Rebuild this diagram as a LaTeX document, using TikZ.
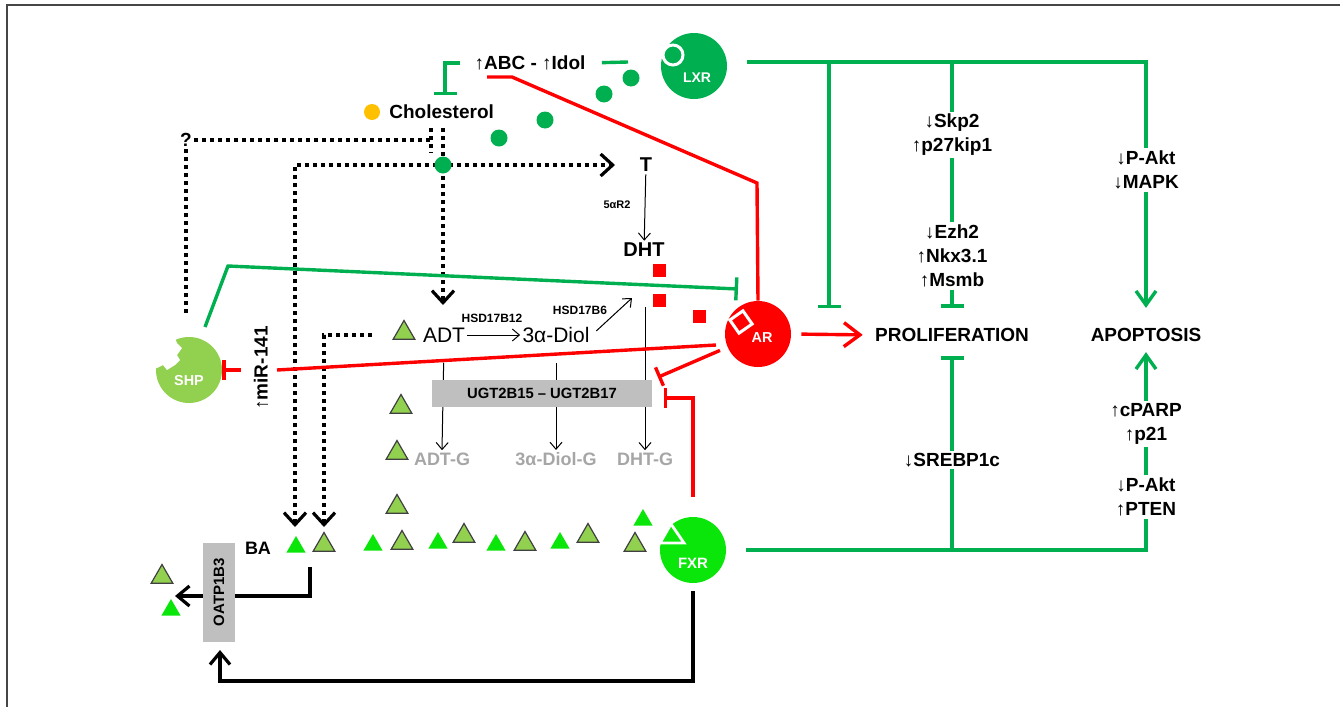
\documentclass[tikz,border=0pt]{standalone}
\usepackage{fontspec}
\setmainfont{Liberation Sans}
\usetikzlibrary{arrows.meta,shapes.geometric}
\definecolor{NRlxr}{RGB}{0,176,80}
\definecolor{NRfxr}{RGB}{10,230,10}
\definecolor{NRshp}{RGB}{146,208,80}
\definecolor{NRred}{RGB}{255,0,0}
\definecolor{NRorange}{RGB}{255,192,0}
\definecolor{NRbox}{RGB}{191,191,191}
\definecolor{NRtext}{RGB}{166,166,166}
\definecolor{NRedge}{RGB}{64,64,64}
\definecolor{NRframe}{RGB}{70,70,70}
\tikzset{
  receptor/.style={circle,minimum size=33pt,inner sep=0pt},
  rtext/.style={text=white,inner sep=0pt,font=\fontsize{7.2}{8}\selectfont\bfseries},
  lbl/.style={font=\fontsize{9.5}{12}\selectfont\bfseries,align=center,inner sep=1pt},
  enz/.style={font=\fontsize{6}{7}\selectfont\bfseries,inner sep=1pt},
  met/.style={font=\fontsize{10.5}{12}\selectfont,inner sep=1pt},
  glu/.style={font=\fontsize{9}{10}\selectfont\bfseries,text=NRtext,inner sep=1pt},
  tribas/.style={regular polygon,regular polygon sides=3,inner sep=0pt,minimum size=12.5pt,
                 fill=NRshp,draw=NRedge,line width=0.6pt},
  tribile/.style={regular polygon,regular polygon sides=3,inner sep=0pt,minimum size=11pt,fill=NRfxr},
  ligand/.style={circle,fill=NRlxr,minimum size=8.5pt,inner sep=0pt},
  andro/.style={rectangle,fill=NRred,minimum size=6.5pt,inner sep=0pt},
  gl/.style={draw=NRlxr,line width=1.7pt},
  ginh/.style={gl,-{Bar[width=11.5pt,line width=1.7pt]}},
  gact/.style={gl,-{Straight Barb[length=7pt,width=10pt,line width=1.7pt]}},
  rl/.style={draw=NRred,line width=1.7pt},
  rinh/.style={rl,-{Bar[width=10pt,line width=1.7pt]}},
  ract/.style={rl,-{Straight Barb[length=8pt,width=12pt,line width=1.7pt]}},
  dl/.style={draw=black,line width=2pt,dash pattern=on 2pt off 2pt},
  dact/.style={dl,-{Straight Barb[length=6pt,width=11pt,line width=1.6pt]}},
  bl/.style={draw=black,line width=1.8pt,-{Straight Barb[length=6pt,width=10pt,line width=1.6pt]}},
  tl/.style={draw=black,line width=0.5pt,-{Straight Barb[length=3.5pt,width=6pt,line width=0.5pt]}}
}
\begin{document}
\begin{tikzpicture}[x=0.5pt,y=-0.5pt]
  \useasboundingbox (0,0) rectangle (1340,707);
  \draw[NRframe,line width=1pt] (7,707) -- (7,5) -- (1340,5);

  \coordinate (lxrout) at (747,62);
  \coordinate (lxrb1) at (829,62);
  \coordinate (lxrb2) at (952,62);
  \coordinate (pinh) at (829,308);
  \coordinate (fxrout) at (746,550);
  \coordinate (shpout) at (205,327);
  \coordinate (shpbend) at (228,266);
  \coordinate (argreen) at (738,289);
  \coordinate (arbend) at (757,183);
  \coordinate (abcbar) at (512,77);
  \coordinate (abcbarl) at (487,77);
  \coordinate (armir) at (716,345);
  \coordinate (mirr) at (277,370);
  \coordinate (mirl) at (241,370);
  \coordinate (ugtbar) at (664,398);
  \coordinate (cholbar) at (445,95);
  \coordinate (abcright) at (628,62);
  \coordinate (qend) at (431,140);
  \coordinate (qv1) at (431,128);
  \coordinate (qv2) at (431,153);
  \coordinate (qdown) at (186,317);
  \coordinate (cholv) at (443,128);
  \coordinate (adtin) at (443,305);
  \coordinate (ttip) at (615,165);
  \coordinate (batip1) at (295,527);
  \coordinate (adtdot) at (372,335);
  \coordinate (batip2) at (324,527);
  \coordinate (dhtin) at (632,298);
  \coordinate (dhtline) at (645,307);
  \coordinate (baout) at (310,567);
  \coordinate (oatpout) at (175,596);
  \coordinate (loopl) at (220,681);
  \coordinate (oatpin) at (220,650);

  \node[lbl] (abc) at (530,63) {↑ABC - ↑Idol};
  \node[circle,fill=NRorange,minimum size=8pt,inner sep=0pt] (choldot) at (372,112) {};
  \node[lbl,anchor=west] (chol) at (387,112) {Cholesterol};
  \node[lbl] (q) at (186,140) {?};
  \node[lbl,font=\fontsize{10}{12}\selectfont\bfseries] (t) at (646,165) {T};
  \node[lbl,font=\fontsize{10}{12}\selectfont\bfseries] (dht) at (644,250) {DHT};
  \node[enz,font=\fontsize{5.5}{6}\selectfont\bfseries] (red5) at (617,205) {5αR2};
  \node[met] (adt) at (444,335) {ADT};
  \node[met] (diol) at (556,335) {3α-Diol};
  \node[enz] (hsd12) at (492,318) {HSD17B12};
  \node[enz] (hsd6) at (580,310) {HSD17B6};
  \node[glu] (adtg) at (442,459) {ADT-G};
  \node[glu] (diolg) at (556,459) {3α-Diol-G};
  \node[glu] (dhtg) at (645,459) {DHT-G};
  \node[lbl,rotate=90] (mir) at (261,368) {↑miR-141};
  \node[lbl,font=\fontsize{9}{10}\selectfont\bfseries] (ba) at (258,548) {BA};

  \node[lbl] (prolif) at (952,335) {PROLIFERATION};
  \node[lbl] (apop) at (1146,335) {APOPTOSIS};
  \node[lbl] (skp) at (952,135) {↓Skp2\\↑p27kip1};
  \node[lbl] (ezh) at (952,256) {↓Ezh2\\↑Nkx3.1\\↑Msmb};
  \node[lbl] (pakt) at (1146,170) {↓P-Akt\\↓MAPK};
  \node[lbl] (srebp) at (952,460) {↓SREBP1c};
  \node[lbl] (cparp) at (1146,424) {↑cPARP\\↑p21};
  \node[lbl] (paktb) at (1146,497) {↓P-Akt\\↑PTEN};

  \node[receptor,fill=NRlxr] (lxr) at (694,66) {};
  \draw[white,line width=1.5pt,fill=NRlxr] (673,55) circle (10);
  \node[rtext,font=\fontsize{7}{8}\selectfont\bfseries] (lxrt) at (697,78) {LXR};
  \node[receptor,fill=NRred] (ar) at (758,334) {};
  \node[draw=white,line width=1.5pt,fill=NRred,minimum size=8pt,inner sep=0pt,rotate=35] (arsite) at (741,322) {};
  \node[rtext] (art) at (762,338) {AR};
  \node[receptor,fill=NRshp] (shp) at (189,370) {};
  \fill[white] (150,330) -- (177,330) -- (175,338) -- (177,343) -- (182,348) -- (177,355) -- (180,360)
    -- (175,365) -- (167,370) -- (163,365) -- (157,368) -- (150,368) -- cycle;
  \node[rtext] (shpt) at (189,381) {SHP};
  \node[receptor,fill=NRfxr] (fxr) at (693,550) {};
  \draw[white,line width=1.4pt,fill=NRfxr] (660,543) -- (684,543) -- (671,524) -- cycle;
  \node[rtext,font=\fontsize{7.5}{8}\selectfont\bfseries] (fxrt) at (693,563) {FXR};

  \node[ligand] (ld1) at (631,78) {};
  \node[ligand] (ld2) at (604,94) {};
  \node[ligand] (ld3) at (545,120) {};
  \node[ligand] (ld4) at (499,138) {};
  \node[andro] (rs1) at (659,270) {};
  \node[andro] (rs2) at (659,300) {};
  \node[andro] (rs3) at (699,316) {};

  \node[tribas] (tr1) at (404,333) {};
  \node[tribas] (tr2) at (401,407) {};
  \node[tribas] (tr3) at (397,453) {};
  \node[tribas] (tr4) at (397,507) {};
  \node[tribas] (tr5) at (324,545) {};
  \node[tribas] (tr6) at (402,543) {};
  \node[tribas] (tr7) at (464,536) {};
  \node[tribas] (tr8) at (525,544) {};
  \node[tribas] (tr9) at (588,536) {};
  \node[tribas] (tr10) at (635,545) {};
  \node[tribas] (tr11) at (162,577) {};
  \node[tribile] (tb1) at (296,547) {};
  \node[tribile] (tb2) at (373,545) {};
  \node[tribile] (tb3) at (438,543) {};
  \node[tribile] (tb4) at (496,545) {};
  \node[tribile] (tb5) at (560,543) {};
  \node[tribile] (tb6) at (643,520) {};
  \node[tribile] (tb7) at (171,610) {};

  \draw[dl] (q.east) -- (qend);
  \draw[dl] (qv1) -- (qv2);
  \draw[dl] (q.south) -- (qdown);
  \draw[dact] (cholv) -- (adtin);
  \draw[dl,{Straight Barb[length=6pt,width=11pt,line width=1.6pt]}-{Straight Barb[length=6pt,width=11pt,line width=1.6pt]}]
    (batip1) |- (ttip);
  \draw[dact] (adtdot) -| (batip2);
  \node[ligand] (ld5) at (443,165) {};

  \draw[tl] (t) -- (dht);
  \draw[tl] (adt) -- (diol);
  \draw[tl,shorten <=3pt] (diol.east) -- (dhtin);
  \draw[tl,shorten <=9pt] (adt.south) -- (adtg.north);
  \draw[tl,shorten <=9pt] (diol.south) -- (diolg.north);
  \draw[tl] (dhtline) -- (dhtg.north);
  \node[fill=NRbox,minimum width=110pt,minimum height=13.5pt,inner sep=0pt,
        font=\fontsize{7.4}{8}\selectfont\bfseries] (ugt) at (542,393.5) {UGT2B15 -- UGT2B17};

  \draw[bl] (baout) |- (oatpout);
  \draw[bl,shorten <=4pt] (fxr.south) |- (loopl) -- (oatpin);
  \node[fill=NRbox,rotate=90,minimum width=49.5pt,minimum height=16pt,inner sep=0pt,
        font=\fontsize{7.5}{8}\selectfont\bfseries] (oatp) at (219,592) {OATP1B3};

  \draw[gl] (lxrout) -| (pakt.north);
  \draw[ginh] (lxrb1) -- (pinh);
  \draw[gl] (lxrb2) -- (skp.north);
  \draw[gl] (skp) -- (ezh);
  \draw[ginh,shorten >=9pt] (ezh) -- (prolif);
  \draw[gact,shorten >=9pt] (pakt) -- (apop);
  \draw[ginh,shorten >=6pt] (srebp) -- (prolif);
  \draw[gact,shorten >=4pt] (cparp) -- (apop);
  \draw[gl] (paktb) -- (cparp);
  \draw[gl] (fxrout) -| (paktb.south);
  \draw[gl] (srebp) -- (srebp |- fxrout);
  \draw[ginh,shorten <=6pt] (abc.west) -| (cholbar);
  \draw[gl,shorten <=7pt] (abc.east) -- (abcright);
  \draw[ginh] (shpout) -- (shpbend) -- (argreen);

  \draw[rl] (ar.north) -- (arbend) -- (abcbar) -- (abcbarl);
  \draw[ract,shorten <=5pt,shorten >=5pt] (ar.east) -- (prolif.west);
  \draw[rl] (armir) -- (mirr);
  \draw[rinh] (mirl) -- (shp.east);
  \draw[rinh,shorten <=4pt,shorten >=3pt] (ar) -- (ugt.north east);
  \draw[rinh,shorten <=10pt] (fxr.north) |- (ugtbar);
\end{tikzpicture}
\end{document}
